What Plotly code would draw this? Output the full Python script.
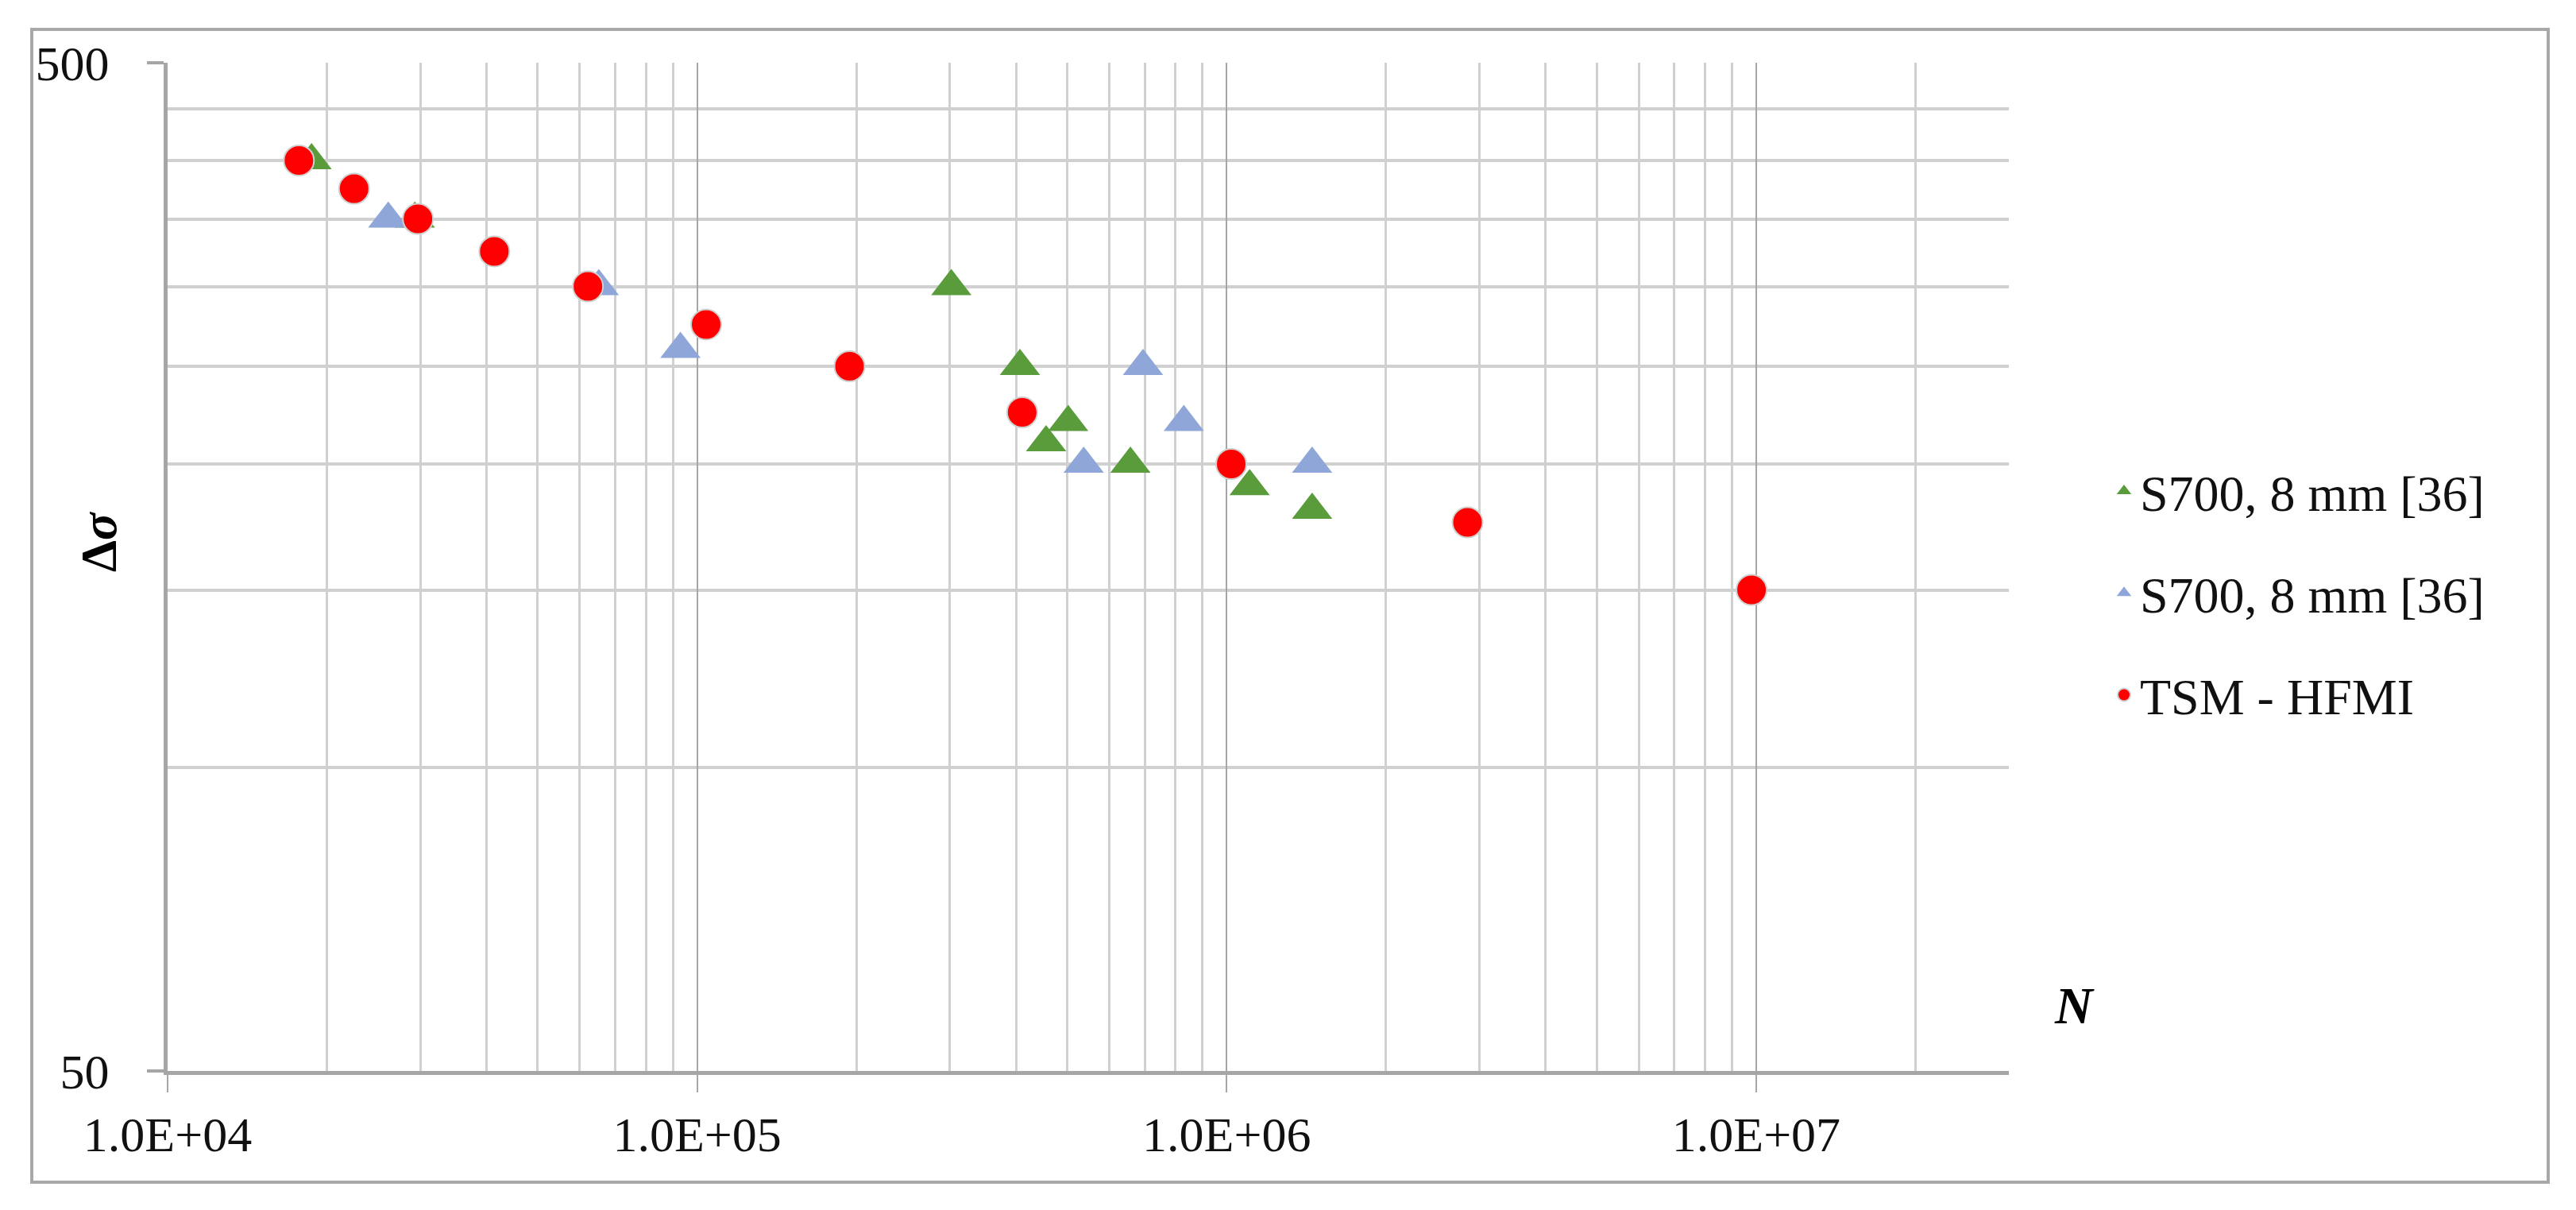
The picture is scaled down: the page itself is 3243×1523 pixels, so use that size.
import math

import plotly.graph_objects as go

# ---- data ----
s700_a_cycles = [1.87e4, 2.93e4, 3.02e5, 4.07e5, 4.56e5, 5.02e5, 6.58e5, 1.105e6, 1.45e6]
s700_a_stress = [400, 350, 300, 250, 210, 220, 200, 190, 180]

s700_b_cycles = [2.61e4, 6.52e4, 9.3e4, 5.37e5, 6.95e5, 8.3e5, 1.45e6]
s700_b_stress = [350, 300, 260, 200, 250, 220, 200]

tsm_cycles = [1.77e4, 2.25e4, 2.97e4, 4.14e4, 6.22e4, 1.04e5, 1.94e5, 4.11e5, 1.02e6, 2.85e6, 9.8e6]
tsm_stress = [400, 375, 350, 325, 300, 275, 250, 225, 200, 175, 150]

series_names = ["S700, 8 mm [36]", "S700, 8 mm [36]", "TSM - HFMI"]

x_tick_vals = [1e4, 1e5, 1e6, 1e7]
x_tick_text = ["1.0E+04", "1.0E+05", "1.0E+06", "1.0E+07"]
y_tick_vals = [50, 500]
y_tick_text = ["50", "500"]

X_MIN, X_MAX = 1e4, 3e7
Y_MIN, Y_MAX = 50, 500

GREEN = "#5A9B3C"
BLUE = "#8FA6D8"
RED = "#FF0000"
GRID_MINOR = "#D0D0D0"
GRID_MAJOR = "#A6A6A6"
FONT = "Liberation Serif"

# page geometry (px)
W, H = 3243, 1523
M_L, M_R, M_T, M_B = 203, 722, 71, 183
PLOT_W, PLOT_H = W - M_L - M_R, H - M_T - M_B


def px_to_paper(px, py):
    return (px - M_L) / PLOT_W, (H - M_B - py) / PLOT_H


# Excel-style minor gridlines on both log axes
x_minor = [m * 10 ** k for k in range(4, 8) for m in range(2, 10) if m * 10 ** k <= X_MAX]
y_minor = list(range(100, 500, 50))

fig = go.Figure()

tri = dict(symbol="triangle-up", size=44, line=dict(width=0))
fig.add_trace(go.Scatter(
    x=s700_a_cycles, y=s700_a_stress, mode="markers", name=series_names[0],
    marker=dict(color=GREEN, **tri), legendgroup="a",
))
fig.add_trace(go.Scatter(
    x=s700_b_cycles, y=s700_b_stress, mode="markers", name=series_names[1],
    marker=dict(color=BLUE, **tri), legendgroup="b",
))
fig.add_trace(go.Scatter(
    x=tsm_cycles, y=tsm_stress, mode="markers", name=series_names[2],
    marker=dict(color=RED, symbol="circle", size=38, line=dict(width=2, color="#D0D0D0")),
    legendgroup="c",
))

fig.update_xaxes(
    type="log", range=[math.log10(X_MIN), math.log10(X_MAX)],
    tickmode="array", tickvals=x_tick_vals, ticktext=x_tick_text,
    ticks="outside", ticklen=22, tickwidth=2, tickcolor=GRID_MAJOR,
    showgrid=True, gridcolor=GRID_MAJOR, gridwidth=2,
    minor=dict(tickmode="array", tickvals=x_minor, showgrid=True,
               gridcolor=GRID_MINOR, gridwidth=3, ticks=""),
    showline=True, linecolor=GRID_MAJOR, linewidth=5,
    ticklabelstandoff=0,
    tickfont=dict(family=FONT, size=62, color="#111111"),
    zeroline=False,
)
fig.update_yaxes(
    type="log", range=[math.log10(Y_MIN), math.log10(Y_MAX)],
    tickmode="array", tickvals=y_tick_vals, ticktext=y_tick_text,
    ticks="outside", ticklen=21, tickwidth=4, tickcolor=GRID_MAJOR,
    showgrid=True, gridcolor=GRID_MAJOR, gridwidth=4,
    minor=dict(tickmode="array", tickvals=y_minor, showgrid=True,
               gridcolor=GRID_MINOR, gridwidth=4, ticks=""),
    showline=True, linecolor=GRID_MAJOR, linewidth=5,
    ticklabelstandoff=35,
    tickfont=dict(family=FONT, size=62, color="#111111"),
    zeroline=False,
)

# outer chart frame
fx0, fy0 = px_to_paper(32, 1480)
fx1, fy1 = px_to_paper(3200, 29)
fig.add_shape(type="rect", xref="paper", yref="paper", x0=fx0, y0=fy0, x1=fx1, y1=fy1,
              line=dict(color="#A8A8A8", width=4), layer="below")

# axis titles placed like the original (rotated Δσ at left, N at lower right)
ax, ay = px_to_paper(116, 674)
nx, ny = px_to_paper(2603, 1257)
fig.add_annotation(text="<b>Δ<i>σ</i></b>", xref="paper", yref="paper", x=ax, y=ay,
                   xanchor="center", yanchor="middle", textangle=-90, showarrow=False,
                   font=dict(family=FONT, size=64, color="black"))
fig.add_annotation(text="<b><i>N</i></b>", xref="paper", yref="paper", x=nx, y=ny,
                   xanchor="center", yanchor="middle", showarrow=False,
                   font=dict(family=FONT, size=66, color="black"))

lx, ly = px_to_paper(2646, 562)
fig.update_layout(
    width=W, height=H,
    margin=dict(l=M_L, r=M_R, t=M_T, b=M_B),
    paper_bgcolor="white", plot_bgcolor="white",
    showlegend=True,
    legend=dict(x=lx, y=ly, xanchor="left", yanchor="top",
                font=dict(family=FONT, size=64, color="#111111"),
                tracegroupgap=42, bgcolor="rgba(0,0,0,0)"),
)

fig.write_html("out.html")
